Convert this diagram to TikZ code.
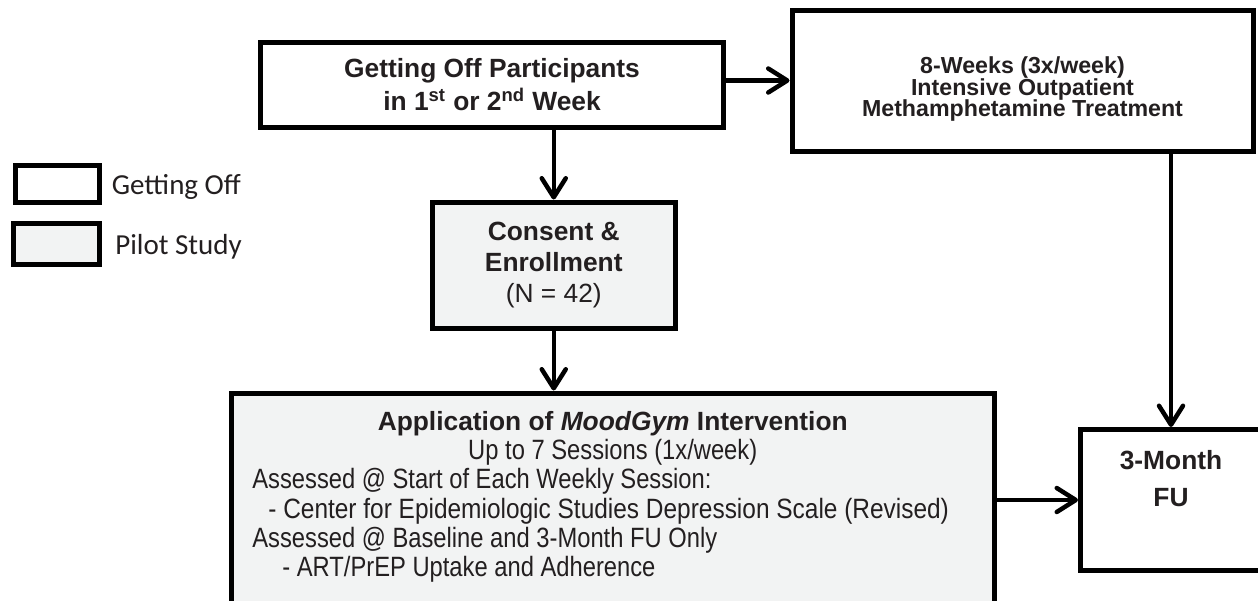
\documentclass[tikz,border=0pt]{standalone}
\usepackage{fontspec}
\setmainfont{Liberation Sans}
\newfontfamily\legendfont{Carlito}
\newfontfamily\narrowfont[FakeStretch=0.85]{Liberation Sans}
\newfontfamily\narrowwidefont[FakeStretch=0.875]{Liberation Sans}
\usepackage{tikz}
\usetikzlibrary{arrows.meta,positioning}

\newlength\unitpx
\setlength\unitpx{0.02cm}
\definecolor{pilotgray}{RGB}{242,243,243}
\definecolor{inkgray}{RGB}{35,31,32}

\tikzset{
    offbox/.style={draw=black, line width=5\unitpx, fill=white, inner sep=0pt, align=center},
    pilotbox/.style={offbox, fill=pilotgray},
    flow/.style={draw=black, line width=4.5\unitpx, -{Straight Barb[round,length=3.8mm,width=4.8mm]}},
    headfont/.style={font=\bfseries\fontsize{15}{18.7}\selectfont, text=inkgray},
    bodyfont/.style={font=\narrowfont\fontsize{15.9}{19}\selectfont, text=inkgray, inner sep=0pt},
}

\begin{document}
\begin{tikzpicture}[x=0.02cm, y=-0.02cm]
    % page
    \useasboundingbox (0,0) rectangle (1258,600);
    \clip (0,0) rectangle (1258,600);

    % legend
    \node[offbox, minimum width=84\unitpx, minimum height=37\unitpx] (legoff) at (57.5,183.5) {};
    \node[pilotbox, minimum width=86\unitpx, minimum height=41\unitpx] (legpilot) at (56.5,243.5) {};
    \node[anchor=base west, inner sep=0pt, text=inkgray, font=\legendfont\fontsize{16.5}{19}\selectfont] (legofflabel) at (111.5,194) {Getting Off};
    \node[anchor=base west, inner sep=0pt, text=inkgray, font=\legendfont\fontsize{16.5}{19}\selectfont] (legpilotlabel) at (115,254) {Pilot Study};

    % boxes
    \node[offbox, headfont, minimum width=463\unitpx, minimum height=85\unitpx] (getoff) at (492,84.5) {Getting Off Participants\\in 1\textsuperscript{st} or 2\textsuperscript{nd} Week};
    \node[offbox, minimum width=461\unitpx, minimum height=141\unitpx] (treat) at (1022.5,80.5) {};
    \node[headfont, font=\bfseries\fontsize{13.2}{12.5}\selectfont, align=center, inner sep=0pt] (treatlabel) at ([yshift=-8.5\unitpx]treat.center) {8-Weeks (3x/week)\\Intensive Outpatient\\Methamphetamine Treatment};
    \node[pilotbox, headfont, font=\bfseries\fontsize{15}{17.6}\selectfont, minimum width=243.5\unitpx, minimum height=126\unitpx] (consent) at (553.75,265) {Consent \&\\Enrollment\\{\mdseries (N = 42)}};
    \node[pilotbox, minimum width=763.5\unitpx, minimum height=247\unitpx] (app) at (612.75,516.5) {};
    \node[offbox, minimum width=181\unitpx, minimum height=141\unitpx] (fu) at (1171,500) {};

    % texts of the last two boxes
    \node[anchor=base, headfont, inner sep=0pt] (apptitle) at (612.75,430.5) {Application of \textit{MoodGym} Intervention};
    \node[anchor=base, bodyfont] (appsessions) at (612.75,459) {Up to 7 Sessions (1x/week)};
    \node[anchor=base west, bodyfont] (appweekly) at (252,488) {Assessed @ Start of Each Weekly Session:};
    \node[anchor=base west, bodyfont, font=\narrowwidefont\fontsize{15.9}{19}\selectfont] (appcesd) at (268,518) {- Center for Epidemiologic Studies Depression Scale (Revised)};
    \node[anchor=base west, bodyfont] (appbase) at (252,547) {Assessed @ Baseline and 3-Month FU Only};
    \node[anchor=base west, bodyfont] (appart) at (282,576) {- ART/PrEP Uptake and Adherence};
    \node[headfont, font=\bfseries\fontsize{15}{21}\selectfont, align=center, inner sep=0pt, below=23\unitpx of fu.north] (fulabel) {3-Month\\FU};

    % arrows
    \draw[flow] (getoff.east |- treat.west) -- (treat.west);
    \draw[flow] (getoff.south -| consent.north) -- (consent.north);
    \draw[flow] (consent.south) -- (consent.south |- app.north);
    \draw[flow] (treat.south -| fu.north) -- (fu.north);
    \draw[flow] (app.east |- fu.west) -- (fu.west);
\end{tikzpicture}
\end{document}
